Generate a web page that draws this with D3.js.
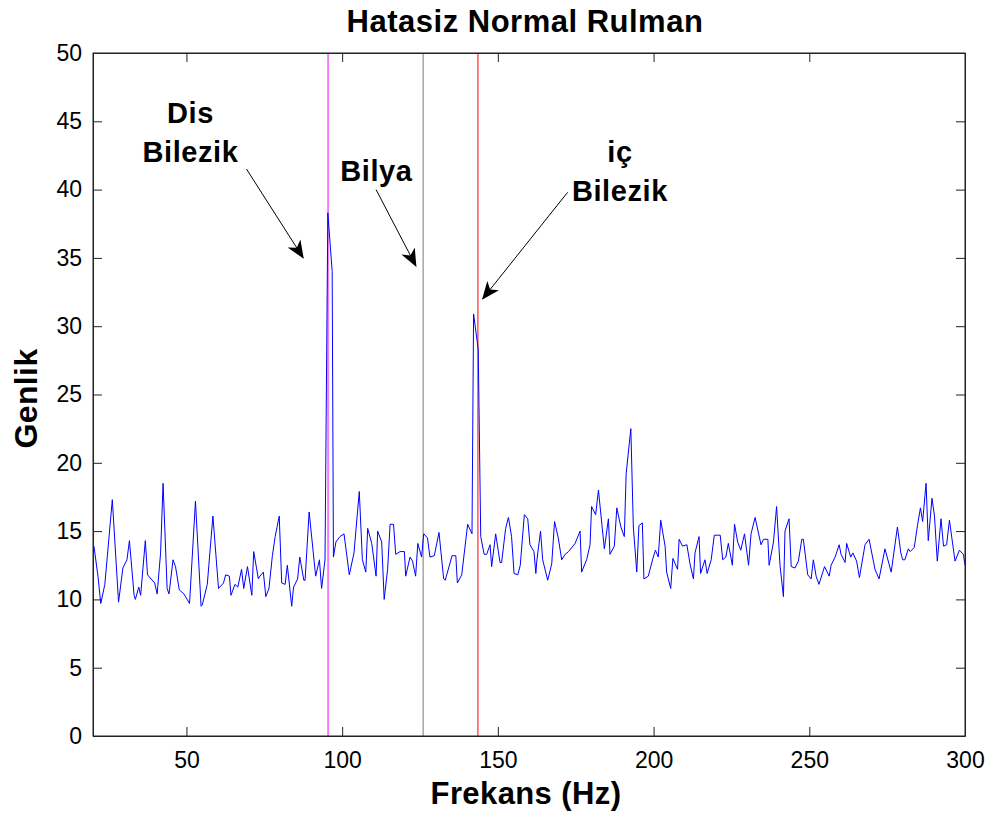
<!DOCTYPE html>
<html>
<head>
<meta charset="utf-8">
<script src="https://cdn.jsdelivr.net/npm/d3@7"></script>
<style>
  body { margin: 0; background: #fff; }
  svg { font-family: "Liberation Sans", Arial, Helvetica, sans-serif; }
</style>
</head>
<body>
<svg id="chart"></svg>
<script>
const width = 992
const height = 813

// Spectrum vertices (frequency in Hz, amplitude)
const freqs = [
  20.3, 21.6, 22.5, 23.8, 26.2, 28.2, 29.6, 30.9, 31.7, 33.2, 33.6, 34.7, 35.3, 36.8, 37.5, 39.8,
  40.6, 41.7, 42.5, 43.8, 44.4, 45.7, 46.5, 47.7, 49.2, 51.0, 52.9, 54.7, 55.1, 56.7, 58.5, 60.3,
  61.9, 62.6, 63.8, 64.3, 65.6, 66.5, 67.7, 68.4, 69.6, 71.0, 71.6, 73.1, 73.6, 74.7, 75.5, 76.5,
  77.6, 78.5, 79.8, 80.6, 81.7, 82.4, 83.8, 84.4, 85.7, 86.4, 87.7, 88.1, 89.4, 91.5, 92.7, 93.4,
  94.5, 95.4, 96.8, 97.2, 98.0, 99.3, 100.6, 102.3, 103.8, 105.5, 106.5, 107.6, 108.2, 109.5, 110.9, 111.4,
  112.7, 113.5, 114.6, 115.4, 116.5, 117.2, 118.6, 120.0, 120.4, 121.8, 122.6, 123.6, 124.3, 125.5, 126.2, 127.4,
  128.2, 129.6, 131.1, 132.6, 133.1, 135.3, 136.5, 137.0, 138.4, 140.3, 141.7, 142.2, 143.7, 144.5, 145.6, 146.4,
  147.5, 148.0, 149.3, 150.7, 151.2, 152.5, 153.4, 154.4, 155.2, 156.4, 157.2, 158.5, 159.6, 160.3, 161.6, 162.2,
  162.5, 163.7, 164.4, 166.0, 167.3, 168.2, 169.4, 170.5, 171.6, 172.7, 174.8, 176.4, 176.9, 178.5, 179.6, 180.1,
  181.4, 182.3, 183.4, 184.2, 185.5, 186.0, 187.4, 188.2, 189.5, 190.6, 191.2, 192.7, 193.5, 194.6, 195.3, 196.4,
  196.9, 198.3, 199.9, 200.6, 201.5, 202.3, 203.7, 204.2, 205.5, 206.2, 207.7, 208.2, 209.3, 210.7, 211.7, 212.8,
  213.3, 214.6, 215.1, 216.5, 217.2, 218.5, 219.5, 221.4, 222.2, 223.2, 224.0, 225.3, 226.0, 227.0, 228.0, 229.2,
  230.5, 231.3, 232.6, 234.5, 235.3, 236.7, 237.1, 238.5, 239.5, 240.6, 241.7, 242.2, 243.5, 244.2, 245.4, 246.5,
  247.6, 248.1, 249.5, 250.6, 251.3, 252.2, 253.1, 254.9, 256.4, 257.0, 258.3, 259.6, 260.2, 261.5, 262.0, 263.3,
  264.0, 265.2, 266.1, 267.9, 269.2, 271.1, 272.4, 274.3, 276.3, 278.3, 279.4, 280.0, 280.7, 281.8, 282.4, 283.7,
  284.8, 285.7, 286.4, 287.5, 288.2, 289.4, 290.2, 291.1, 292.3, 293.1, 294.1, 295.0, 296.8, 298.2, 299.5, 300.0
]
const amps = [
  13.9, 11.7, 9.7, 11.1, 17.3, 9.8, 12.3, 12.9, 14.3, 10.3, 10.0, 10.9, 10.3, 14.3, 11.8, 11.2,
  10.4, 13.4, 18.5, 10.8, 10.4, 12.9, 12.4, 10.7, 10.4, 9.7, 17.2, 9.5, 9.6, 11.1, 16.1, 10.8,
  11.2, 11.8, 11.7, 10.3, 11.1, 10.9, 12.2, 10.8, 12.4, 10.3, 13.5, 11.5, 11.7, 12.0, 10.2, 10.8,
  13.2, 14.6, 16.1, 11.2, 11.1, 12.5, 9.5, 10.9, 11.5, 13.1, 11.4, 11.4, 16.4, 11.7, 12.9, 10.8,
  12.9, 38.3, 34.0, 13.1, 14.2, 14.6, 14.8, 11.8, 13.4, 17.9, 12.9, 12.0, 15.2, 14.1, 11.7, 15.0,
  14.2, 10.0, 12.2, 15.5, 15.5, 13.3, 13.5, 13.5, 11.7, 13.1, 12.8, 11.7, 14.1, 13.1, 14.8, 14.5,
  13.1, 13.2, 14.9, 11.5, 11.4, 13.2, 13.2, 11.2, 11.8, 15.5, 14.8, 30.9, 28.3, 14.6, 13.3, 13.3,
  14.0, 12.4, 14.8, 12.7, 12.7, 15.2, 16.0, 14.6, 11.9, 11.8, 12.5, 16.2, 15.9, 14.0, 13.5, 11.9,
  12.8, 15.0, 12.9, 11.4, 12.6, 15.7, 14.5, 12.9, 13.3, 13.5, 14.1, 15.0, 12.0, 12.9, 14.0, 16.8,
  16.2, 18.0, 15.5, 13.7, 15.9, 13.3, 13.9, 16.7, 15.3, 14.6, 19.2, 22.5, 15.3, 12.0, 15.4, 15.6,
  11.5, 11.7, 13.1, 13.6, 13.1, 15.8, 13.9, 12.0, 10.8, 13.0, 12.2, 14.4, 13.9, 14.0, 12.6, 11.5,
  13.4, 14.6, 11.9, 12.9, 11.9, 12.9, 14.7, 14.7, 12.9, 13.1, 14.1, 12.5, 15.5, 14.2, 13.6, 14.8,
  12.5, 14.8, 16.0, 14.0, 14.4, 14.4, 12.5, 14.2, 16.8, 12.5, 10.2, 15.0, 15.9, 12.4, 12.3, 12.8,
  14.4, 14.4, 11.8, 11.5, 12.9, 11.7, 11.1, 12.4, 11.7, 12.5, 13.1, 14.0, 13.3, 12.7, 14.1, 13.1,
  13.4, 12.8, 11.6, 14.0, 14.4, 12.2, 11.5, 13.7, 12.0, 15.3, 13.4, 12.9, 12.9, 13.7, 13.5, 13.8,
  15.5, 16.7, 15.7, 18.5, 14.3, 17.4, 16.1, 12.8, 15.9, 13.9, 14.0, 15.8, 12.8, 13.6, 13.3, 12.5
]

// Marker lines (Hz) and their colours
const markerFreqs = [95.5, 126.0, 143.6]
const markerColors = ["#f47ef4", "#7a7a7a", "#ff0000"]

// Annotation labels: lines of text, anchor (Hz, amplitude), arrow tail and tip
const labelLines = [["Dis", "Bilezik"], ["Bilya"], ["iç", "Bilezik"]]
const labelAnchors = [[51.3, 42.0], [111.0, 40.6], [189.2, 39.2]]
const arrowTails = [[69.3, 41.5], [110.9, 40.0], [172.4, 39.8]]
const arrowTips = [[87.5, 35.0], [123.7, 34.4], [145.1, 32.0]]

const xTicks = [50, 100, 150, 200, 250, 300]
const yTicks = [0, 5, 10, 15, 20, 25, 30, 35, 40, 45, 50]

const margin = { top: 53, right: 27, bottom: 77, left: 93 }
const innerW = width - margin.left - margin.right
const innerH = height - margin.top - margin.bottom

const svg = d3.select("#chart")
    .attr("width", width)
    .attr("height", height)

const x = d3.scaleLinear().domain([20, 300]).range([0, innerW])
const y = d3.scaleLinear().domain([0, 50]).range([innerH, 0])

const g = svg.append("g")
    .attr("transform", `translate(${margin.left},${margin.top})`)

g.append("defs")
  .append("clipPath")
  .attr("id", "plot-clip")
  .append("rect")
  .attr("width", innerW)
  .attr("height", innerH)

// Marker lines
g.append("g")
  .selectAll("line")
  .data(markerFreqs)
  .enter()
  .append("line")
  .attr("x1", d => x(d))
  .attr("x2", d => x(d))
  .attr("y1", 0)
  .attr("y2", innerH)
  .attr("stroke", (d, i) => markerColors[i])
  .attr("stroke-width", (d, i) => i == 0 ? 2 : 1)

// Spectrum
const points = freqs.map((f, i) => [f, amps[i]])
const line = d3.line()
    .x(d => x(d[0]))
    .y(d => y(d[1]))

g.append("path")
  .datum(points)
  .attr("clip-path", "url(#plot-clip)")
  .attr("fill", "none")
  .attr("stroke", "#0000ff")
  .attr("stroke-width", 1)
  .attr("stroke-linejoin", "round")
  .attr("d", line)

// Axes (MATLAB style box, inward ticks on every side)
const tickLen = 9
const xAxis = g.append("g")
    .attr("transform", `translate(0,${innerH})`)
    .call(d3.axisBottom(x).tickValues(xTicks).tickSizeInner(-tickLen).tickSizeOuter(0).tickPadding(16))
const xAxisTop = g.append("g")
    .call(d3.axisTop(x).tickValues(xTicks).tickSizeInner(-tickLen).tickSizeOuter(0).tickFormat(""))
const yAxis = g.append("g")
    .call(d3.axisLeft(y).tickValues(yTicks).tickSizeInner(-tickLen).tickSizeOuter(0).tickPadding(11))
const yAxisRight = g.append("g")
    .attr("transform", `translate(${innerW},0)`)
    .call(d3.axisRight(y).tickValues(yTicks).tickSizeInner(-tickLen).tickSizeOuter(0).tickFormat(""))

;[xAxis, xAxisTop, yAxis, yAxisRight].forEach(a => {
    a.selectAll("path").attr("stroke", "#222").attr("stroke-width", 1)
    a.selectAll("line").attr("stroke", "#222")
    a.selectAll("text")
      .attr("fill", "#000")
      .style("font-size", "23px")
      .style("font-family", "'Liberation Sans', Arial, sans-serif")
})

// Box
g.append("rect")
  .attr("width", innerW)
  .attr("height", innerH)
  .attr("fill", "none")
  .attr("stroke", "#222")
  .attr("stroke-width", 1)

// Arrows
svg.append("defs")
  .append("marker")
  .attr("id", "head")
  .attr("viewBox", "0 -8 18 16")
  .attr("refX", 17)
  .attr("refY", 0)
  .attr("markerWidth", 18)
  .attr("markerHeight", 16)
  .attr("markerUnits", "userSpaceOnUse")
  .attr("orient", "auto")
  .append("path")
  .attr("d", "M0,-7.5L18,0L0,7.5L5,0Z")
  .attr("fill", "#000")

g.append("g")
  .selectAll("line")
  .data(arrowTails)
  .enter()
  .append("line")
  .attr("x1", d => x(d[0]))
  .attr("y1", d => y(d[1]))
  .attr("x2", (d, i) => x(arrowTips[i][0]))
  .attr("y2", (d, i) => y(arrowTips[i][1]))
  .attr("stroke", "#000")
  .attr("stroke-width", 1)
  .attr("marker-end", "url(#head)")

// Annotation text
const lineGap = 39
const labels = g.append("g")
  .selectAll("text")
  .data(labelLines)
  .enter()
  .append("text")
  .attr("text-anchor", "middle")
  .attr("font-weight", "bold")
  .attr("font-size", 29)
  .attr("letter-spacing", 0.6)
  .attr("fill", "#000")
  .attr("x", (d, i) => x(labelAnchors[i][0]))
  .attr("y", (d, i) => y(labelAnchors[i][1]) - (d.length - 1) * lineGap)

labels.selectAll("tspan")
  .data(d => d)
  .enter()
  .append("tspan")
  .attr("x", function () { return d3.select(this.parentNode).attr("x") })
  .attr("dy", (d, i) => i == 0 ? 0 : lineGap)
  .text(d => d)

// Title and axis labels
svg.append("text")
  .attr("x", margin.left + innerW / 2 - 4)
  .attr("y", 32)
  .attr("text-anchor", "middle")
  .attr("font-weight", "bold")
  .attr("font-size", 31)
  .attr("letter-spacing", 0.5)
  .text("Hatasiz Normal Rulman")

svg.append("text")
  .attr("x", margin.left + innerW / 2 - 3)
  .attr("y", 804)
  .attr("text-anchor", "middle")
  .attr("font-weight", "bold")
  .attr("font-size", 31)
  .attr("letter-spacing", 0.4)
  .text("Frekans (Hz)")

svg.append("text")
  .attr("transform", `translate(37,${margin.top + innerH / 2 + 4}) rotate(-90)`)
  .attr("text-anchor", "middle")
  .attr("font-weight", "bold")
  .attr("font-size", 32)
  .attr("letter-spacing", 0.4)
  .text("Genlik")
</script>
</body>
</html>
